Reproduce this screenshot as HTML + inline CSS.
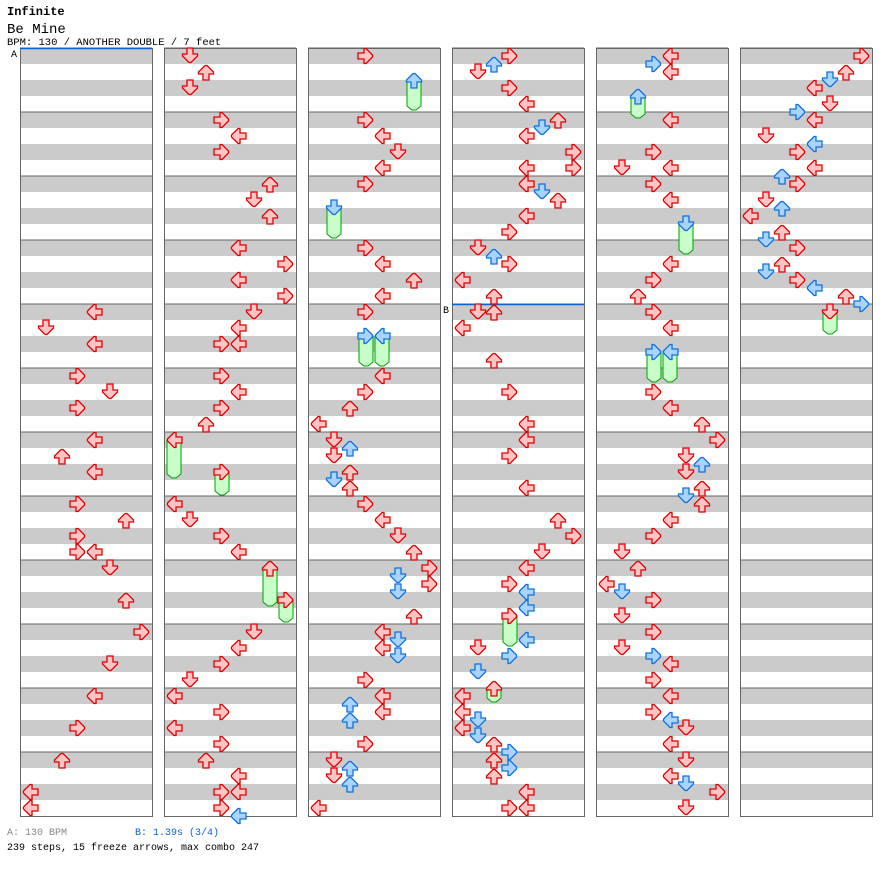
<!DOCTYPE html>
<html><head><meta charset="utf-8">
<style>
body{margin:0;background:#fff;width:896px;height:876px;overflow:hidden;font-family:"Liberation Mono",monospace;}
svg{position:absolute;left:0;top:0}
</style></head><body>
<svg id="s" width="896" height="876" xmlns="http://www.w3.org/2000/svg">
<text x="7" y="15" font-family="Liberation Mono, monospace" font-size="12" font-weight="bold">Infinite</text>
<text x="7" y="33" font-family="Liberation Mono, monospace" font-size="14">Be Mine</text>
<text x="7" y="45" font-family="Liberation Mono, monospace" font-size="10.5">BPM: 130 / ANOTHER DOUBLE / 7 feet</text>
<text x="11" y="57" font-family="Liberation Mono, monospace" font-size="10">A</text>
<text x="443" y="313" font-family="Liberation Mono, monospace" font-size="10">B</text>
<text x="7" y="835" font-family="Liberation Mono, monospace" font-size="10" fill="#888">A: 130 BPM</text>
<text x="135" y="835" font-family="Liberation Mono, monospace" font-size="10" fill="#0a64d8">B: 1.39s (3/4)</text>
<text x="7" y="850" font-family="Liberation Mono, monospace" font-size="10">239 steps, 15 freeze arrows, max combo 247</text>
<g id="g"></g>
</svg>
<script>
var g=document.getElementById('g');var h='';
for(var c=0;c<6;c++){var x=20+144*c;
 for(var m=0;m<12;m++){var y=48+64*m;
  h+='<rect x="'+x+'" y="'+y+'" width="132" height="16" fill="#cbcbcb"/>';
  h+='<rect x="'+x+'" y="'+(y+32)+'" width="132" height="16" fill="#cbcbcb"/>';
  h+='<line x1="'+x+'" y1="'+y+'" x2="'+(x+132)+'" y2="'+y+'" stroke="#666"/>';}
 h+='<rect x="'+(x+.5)+'" y="48.5" width="132" height="768" fill="none" stroke="#666"/>';}
h+='<line x1="20" y1="48.5" x2="152" y2="48.5" stroke="#0a64d8" stroke-width="1.5"/>';
h+='<line x1="452" y1="304.5" x2="584" y2="304.5" stroke="#0a64d8" stroke-width="1.5"/>';
var rot=[90,0,180,-90,90,0,180,-90];
function lane(c,x){return Math.round((x-(20+144*c)-10)/16);}
function arrow(c,x,y,b){var l=lane(c,x);var cx=20+144*c+10+16*l;
 return '<path d="M-3,-8 L3,-8 L3,-2 L7.5,-2 L7.5,0 L1,6.5 L-1,6.5 L-7.5,0 L-7.5,-2 L-3,-2 Z" transform="translate('+cx+','+y+') rotate('+rot[l]+')" fill="'+(b?'#a8d4ff':'#ffc4c4')+'" stroke="'+(b?'#1070e0':'#e00000')+'" stroke-width="1.3"/>';}
function frz(c,x,y,e){var l=lane(c,x);var cx=20+144*c+10+16*l;
 return '<path d="M'+(cx-7)+','+y+' L'+(cx+7)+','+y+' L'+(cx+7)+','+(e-4)+' L'+(cx+2)+','+e+' L'+(cx-2)+','+e+' L'+(cx-7)+','+(e-4)+' Z" fill="#c8ffc8" stroke="#00a000"/>';}
var A=[
[0,94,312],[0,46,328],[0,94,344],[0,78,376],[0,110,392],[0,78,408],[0,94,440],[0,62,456],[0,94,472],[0,78,504],[0,126,520],[0,78,536],[0,78,552],[0,94,552],[0,110,568],[0,126,600],[0,142,632],[0,110,664],[0,94,696],[0,78,728],[0,62,760],[0,30,792],[0,30,808],
[1,190,56],[1,206,72],[1,190,88],[1,222,120],[1,238,136],[1,222,152],[1,270,184],[1,254,200],[1,270,216],[1,238,248],[1,286,264],[1,238,280],[1,286,296],[1,254,312],[1,238,328],[1,222,344],[1,238,344],[1,222,376],[1,238,392],[1,222,408],[1,206,424],[1,174,440,0,478],[1,222,472,0,495],[1,174,504],[1,190,520],[1,222,536],[1,238,552],[1,270,568,0,606],[1,286,600,0,622],[1,254,632],[1,238,648],[1,222,664],[1,190,680],[1,174,696],[1,222,712],[1,174,728],[1,222,744],[1,206,760],[1,238,776],[1,222,792],[1,238,792],[1,222,808],[1,238,816,1],
[2,366,56],[2,414,80,1,110],[2,366,120],[2,382,136],[2,398,152],[2,382,168],[2,366,184],[2,334,208,1,238],[2,366,248],[2,382,264],[2,414,280],[2,382,296],[2,366,312],[2,366,336,1,366],[2,382,336,1,366],[2,382,376],[2,366,392],[2,350,408],[2,318,424],[2,334,440],[2,350,448,1],[2,334,456],[2,350,472],[2,334,480,1],[2,350,488],[2,366,504],[2,382,520],[2,398,536],[2,414,552],[2,430,568],[2,398,576,1],[2,430,584],[2,398,592,1],[2,414,616],[2,382,632],[2,398,640,1],[2,382,648],[2,398,656,1],[2,366,680],[2,382,696],[2,350,704,1],[2,382,712],[2,350,720,1],[2,366,744],[2,334,760],[2,350,768,1],[2,334,776],[2,350,784,1],[2,318,808],
[3,510,56],[3,494,64,1],[3,478,72],[3,510,88],[3,526,104],[3,558,120],[3,542,128,1],[3,526,136],[3,574,152],[3,526,168],[3,574,168],[3,526,184],[3,542,192,1],[3,558,200],[3,526,216],[3,510,232],[3,478,248],[3,494,256,1],[3,510,264],[3,462,280],[3,494,296],[3,478,312],[3,494,312],[3,462,328],[3,494,360],[3,510,392],[3,526,424],[3,526,440],[3,510,456],[3,526,488],[3,558,520],[3,574,536],[3,542,552],[3,526,568],[3,510,584],[3,526,592,1],[3,526,608,1],[3,510,616,0,646],[3,526,640,1],[3,510,656,1],[3,478,648],[3,478,672,1],[3,494,688,0,702],[3,462,696],[3,462,712],[3,478,720,1],[3,462,728],[3,478,736,1],[3,494,744],[3,510,752,1],[3,494,760],[3,510,768,1],[3,494,776],[3,526,792],[3,510,808],[3,526,808],
[4,670,56],[4,654,64,1],[4,670,72],[4,638,96,1,118],[4,670,120],[4,654,152],[4,622,168],[4,670,168],[4,654,184],[4,670,200],[4,686,224,1,254],[4,670,264],[4,654,280],[4,638,296],[4,654,312],[4,670,328],[4,654,352,1,382],[4,670,352,1,382],[4,654,392],[4,670,408],[4,702,424],[4,718,440],[4,686,456],[4,702,464,1],[4,686,472],[4,702,488],[4,686,496,1],[4,702,504],[4,670,520],[4,654,536],[4,622,552],[4,638,568],[4,606,584],[4,622,592,1],[4,654,600],[4,622,616],[4,654,632],[4,622,648],[4,654,656,1],[4,670,664],[4,654,680],[4,670,696],[4,654,712],[4,670,720,1],[4,686,728],[4,670,744],[4,686,760],[4,670,776],[4,686,784,1],[4,718,792],[4,686,808],
[5,862,56],[5,846,72],[5,830,80,1],[5,814,88],[5,830,104],[5,798,112,1],[5,814,120],[5,766,136],[5,814,144,1],[5,798,152],[5,814,168],[5,782,176,1],[5,798,184],[5,766,200],[5,782,208,1],[5,750,216],[5,782,232],[5,766,240,1],[5,798,248],[5,782,264],[5,766,272,1],[5,798,280],[5,814,288,1],[5,846,296],[5,862,304,1],[5,830,312,0,334]
];
A.forEach(function(a){if(a[4])h+=frz(a[0],a[1],a[2],a[4]);});
A.forEach(function(a){h+=arrow(a[0],a[1],a[2],a[3]);});
g.innerHTML=h;
</script>
</body></html>
